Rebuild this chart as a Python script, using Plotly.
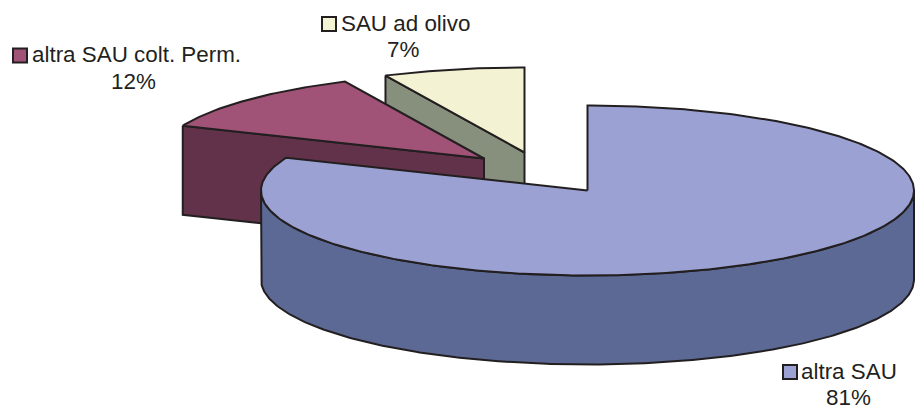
import numpy as np
import plotly.graph_objects as go

categories = ["altra SAU", "altra SAU colt. Perm.", "SAU ad olivo"]
values = [81.3, 11.7, 7.0]

top_colors = ["#9BA2D3", "#A05377", "#F3F2D2"]
side_colors = ["#5B6994", "#613249", "#878F7D"]
OUTLINE = "#231F20"
TEXT = "#231F20"

# pie geometry, in plot-area pixels
CX, CY, RX, RY, DEPTH = 587.5, 190.5, 326.5, 85.0, 89.0
EXPLODE = [(0, 0), (-103.5, -32), (-63, -38)]
# key square centre, label left edge, label centre, first-line y
LABELS = [(790, 799, 848, 371), (20, 30, 133, 54.5), (329, 339, 403, 23)]
KEY_Y_SHIFT = 1
FONT = dict(family="Liberation Sans, Arial, sans-serif", size=22.4, color=TEXT)
LINE_GAP = 26.5

fractions = np.array(values) / sum(values)
ends = np.cumsum(fractions) * 2 * np.pi
starts = ends - fractions * 2 * np.pi

fig = go.Figure()


def poly(xs, ys, fill):
    fig.add_trace(go.Scatter(
        x=xs, y=ys, mode="lines", fill="toself", fillcolor=fill,
        line=dict(color=OUTLINE, width=2), hoverinfo="skip", showlegend=False,
    ))


def arc(a0, a1, ox, oy, drop=0.0):
    t = np.linspace(a0, a1, max(4, int(abs(a1 - a0) * 80)))
    return CX + ox + RX * np.sin(t), CY + oy + drop - RY * np.cos(t)


for i in [2, 1, 0]:
    a0, a1 = starts[i], ends[i]
    ox, oy = EXPLODE[i]
    vx, vy = CX + ox, CY + oy
    if i == 0:
        # outer wall, front half only
        ax, ay = arc(np.pi / 2, 3 * np.pi / 2, ox, oy)
        bx, by = arc(3 * np.pi / 2, np.pi / 2, ox, oy, DEPTH)
        poly(list(ax) + list(bx) + [ax[0]], list(ay) + list(by) + [ay[0]], side_colors[i])
    else:
        # cut face that looks towards the viewer
        ex, ey = arc(a0, a0, ox, oy)
        poly([ex[0], vx, vx, ex[0], ex[0]],
             [ey[0], vy, vy + DEPTH, ey[0] + DEPTH, ey[0]], side_colors[i])
    ax, ay = arc(a0, a1, ox, oy)
    poly([vx] + list(ax) + [vx], [vy] + list(ay) + [vy], top_colors[i])

for i, (kx, lx, cx, ly) in enumerate(LABELS):
    fig.add_trace(go.Scatter(
        x=[kx], y=[ly + KEY_Y_SHIFT], mode="markers", hoverinfo="skip", showlegend=False,
        marker=dict(symbol="square", size=14, color=top_colors[i],
                    line=dict(color=OUTLINE, width=2)),
    ))
    fig.add_annotation(x=lx, y=ly, text=categories[i], xanchor="left", yanchor="middle",
                       showarrow=False, font=FONT, xref="x", yref="y")
    fig.add_annotation(x=cx, y=ly + LINE_GAP, text=f"{round(values[i])}%", xanchor="center",
                       yanchor="middle", showarrow=False, font=FONT, xref="x", yref="y")

fig.update_layout(
    width=915, height=407, margin=dict(l=0, r=0, t=0, b=0),
    paper_bgcolor="white", plot_bgcolor="white", showlegend=False,
    xaxis=dict(range=[0, 915], visible=False, fixedrange=True),
    yaxis=dict(range=[407, 0], visible=False, fixedrange=True),
)
fig.write_html("out.html", config=dict(displayModeBar=False),
               post_script="document.body.style.margin='0';document.body.style.overflow='hidden';")
